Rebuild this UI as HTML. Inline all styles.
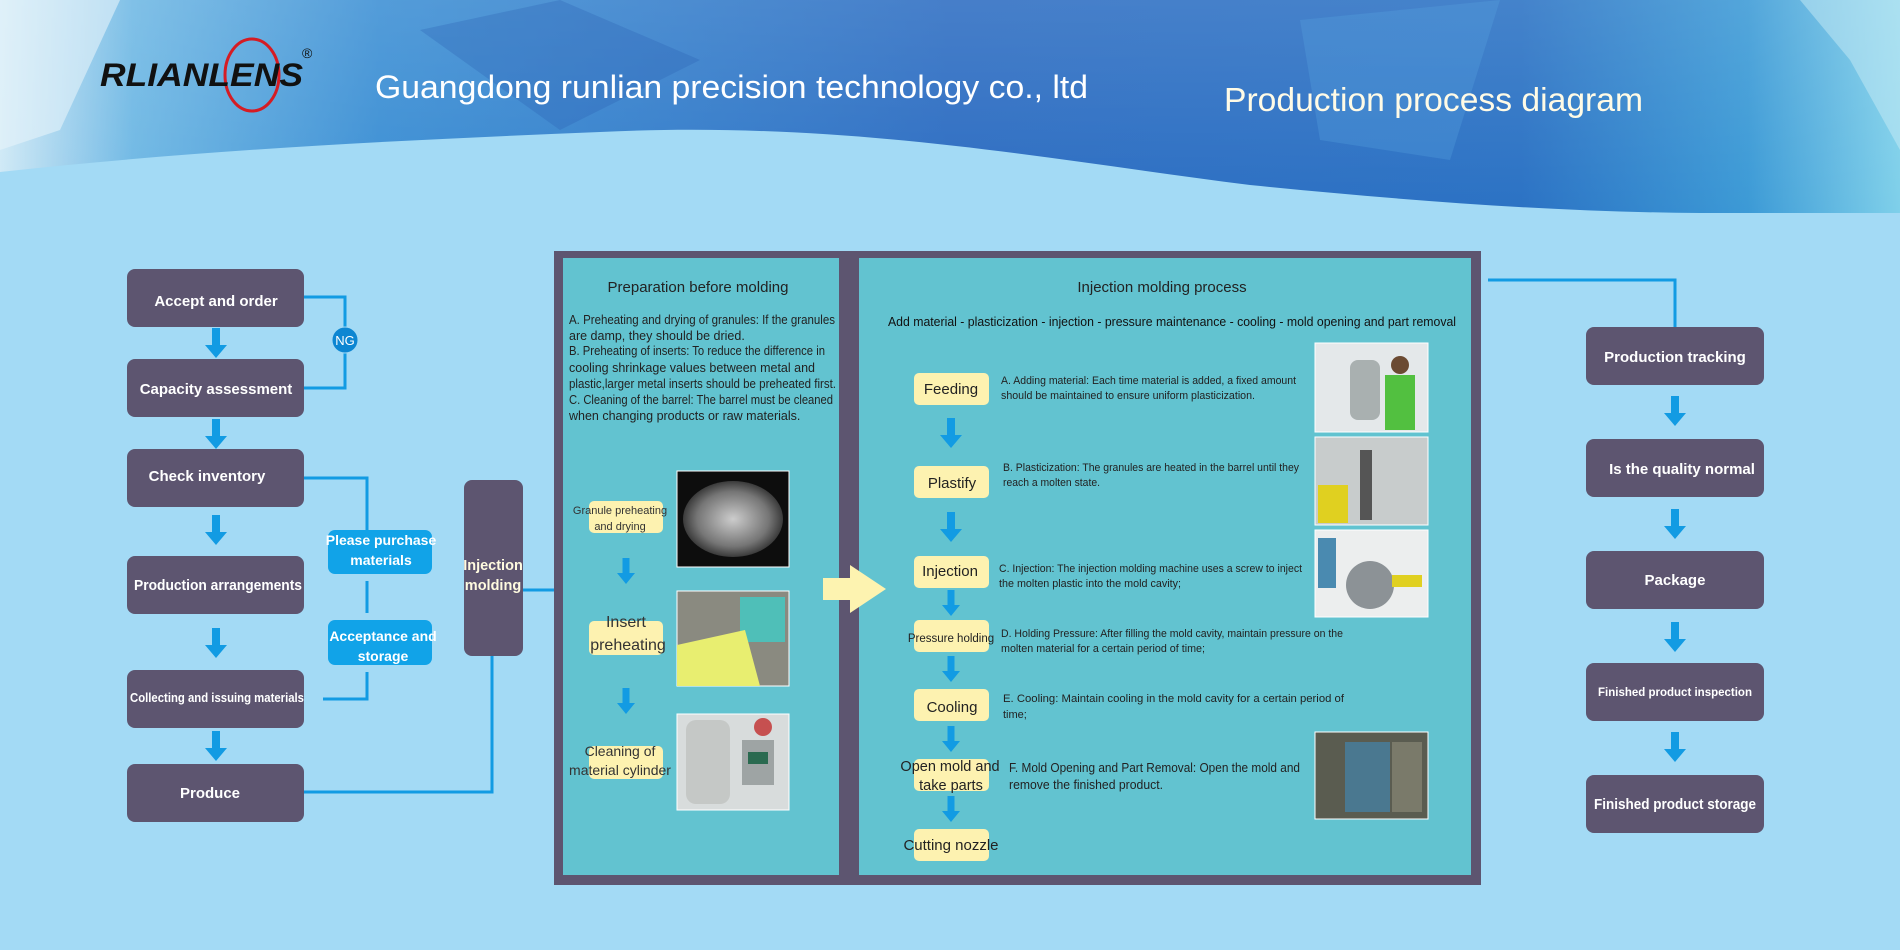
<!DOCTYPE html>
<html><head><meta charset="utf-8"><style>
html,body{margin:0;padding:0;width:1900px;height:950px;overflow:hidden;background:#a3daf5}
svg{display:block}
text{font-family:"Liberation Sans",sans-serif}
</style></head><body>
<svg width="1900" height="950" viewBox="0 0 1900 950" xmlns="http://www.w3.org/2000/svg" xmlns:xlink="http://www.w3.org/1999/xlink">
<defs>
<linearGradient id="hg" x1="0" y1="0" x2="1" y2="0">
<stop offset="0" stop-color="#cfe9f6"/><stop offset="0.07" stop-color="#6fb8e4"/><stop offset="0.2" stop-color="#3c8fd4"/><stop offset="0.5" stop-color="#2d6dc2"/><stop offset="0.8" stop-color="#2b72c4"/><stop offset="0.92" stop-color="#3c9ad6"/><stop offset="1" stop-color="#7fd0ea"/>
</linearGradient>
<linearGradient id="hv" x1="0" y1="0" x2="0" y2="1"><stop offset="0" stop-color="#fff" stop-opacity="0.12"/><stop offset="1" stop-color="#fff" stop-opacity="0"/></linearGradient>
<polygon id="arr" points="-4,0 4,0 4,17 11,17 0,30 -11,17 -4,17" fill="#129be3"/>
<polygon id="arrs" points="-3.5,0 3.5,0 3.5,15 9,15 0,26 -9,15 -3.5,15" fill="#129be3"/>
<radialGradient id="gran" cx="0.5" cy="0.5" r="0.6"><stop offset="0" stop-color="#eee"/><stop offset="0.6" stop-color="#888"/><stop offset="1" stop-color="#111"/></radialGradient>
</defs>
<rect width="1900" height="950" fill="#a3daf5"/>
<path d="M0,0 H1900 V213 L1700,213 C1550,212 1400,200 1250,185 C1050,160 850,120 600,132 C400,140 200,150 0,172 Z" fill="url(#hg)"/>
<path d="M0,0 H1900 V213 L1700,213 C1550,212 1400,200 1250,185 C1050,160 850,120 600,132 C400,140 200,150 0,172 Z" fill="url(#hv)"/>
<polygon points="0,0 120,0 60,130 0,150" fill="#e6f3fa" opacity="0.6"/>
<polygon points="1800,0 1900,0 1900,150 1850,60" fill="#c8ecf6" opacity="0.5"/>
<polygon points="420,30 560,0 700,60 560,130" fill="#2a5fb4" opacity="0.3"/>
<polygon points="1300,20 1500,0 1450,160 1320,140" fill="#5aa7e0" opacity="0.3"/>

<!-- logo -->
<ellipse cx="252" cy="75" rx="27" ry="36" fill="none" stroke="#d51c24" stroke-width="3"/>
<text x="100" y="86" font-size="32" font-weight="bold" font-style="italic" fill="#111" textLength="203" lengthAdjust="spacingAndGlyphs">RLIANLENS</text>
<text x="302" y="58" font-size="14" fill="#111">®</text>
<text x="375" y="98" font-size="32" fill="#fff" textLength="713" lengthAdjust="spacingAndGlyphs">Guangdong runlian precision technology co., ltd</text>
<text x="1224" y="111" font-size="33" fill="#fffbe6" textLength="419" lengthAdjust="spacingAndGlyphs">Production process diagram</text>

<!-- connectors left -->
<g stroke="#129be3" stroke-width="3" fill="none">
<polyline points="304,297 345,297 345,388 304,388"/>
<polyline points="304,478 367,478 367,530"/>
<line x1="367" y1="581" x2="367" y2="613"/>
<polyline points="367,672 367,699 323,699"/>
<line x1="523" y1="590" x2="554" y2="590"/>
<polyline points="304,792 492,792 492,656"/>
<polyline points="1488,280 1675,280 1675,327"/>
</g>
<circle cx="345" cy="340" r="13" fill="#0d86d2" stroke="#a3daf5" stroke-width="1"/>
<text x="345" y="345" font-size="13" fill="#fff" text-anchor="middle">NG</text>

<g fill="#5d5570">
<rect x="127" y="269" width="177" height="58" rx="8"/>
<rect x="127" y="359" width="177" height="58" rx="8"/>
<rect x="127" y="449" width="177" height="58" rx="8"/>
<rect x="127" y="556" width="177" height="58" rx="8"/>
<rect x="127" y="670" width="177" height="58" rx="8"/>
<rect x="127" y="764" width="177" height="58" rx="8"/>
<rect x="464" y="480" width="59" height="176" rx="8"/>
<rect x="1586" y="327" width="178" height="58" rx="8"/>
<rect x="1586" y="439" width="178" height="58" rx="8"/>
<rect x="1586" y="551" width="178" height="58" rx="8"/>
<rect x="1586" y="663" width="178" height="58" rx="8"/>
<rect x="1586" y="775" width="178" height="58" rx="8"/>
</g>
<g fill="#fff" font-weight="bold" text-anchor="middle">
<text x="216" y="306" font-size="15">Accept and order</text>
<text x="216" y="394" font-size="15">Capacity assessment</text>
<text x="207" y="481" font-size="15">Check inventory</text>
<text x="218" y="590" font-size="15" textLength="168" lengthAdjust="spacingAndGlyphs">Production arrangements</text>
<text x="217" y="702" font-size="12.5" textLength="174" lengthAdjust="spacingAndGlyphs">Collecting and issuing materials</text>
<text x="210" y="798" font-size="15">Produce</text>
<text x="1675" y="362" font-size="15">Production tracking</text>
<text x="1682" y="474" font-size="15">Is the quality normal</text>
<text x="1675" y="585" font-size="15">Package</text>
<text x="1675" y="696" font-size="11.5">Finished product inspection</text>
<text x="1675" y="809" font-size="15" textLength="162" lengthAdjust="spacingAndGlyphs">Finished product storage</text>
</g>
<g fill="#fffbe0" font-weight="bold" font-size="14.5" text-anchor="middle">
<text x="493" y="570">Injection</text><text x="493" y="590">molding</text>
</g>
<g fill="#11a3e8">
<rect x="328" y="530" width="104" height="44" rx="7"/>
<rect x="328" y="620" width="104" height="45" rx="7"/>
</g>
<g fill="#fff" font-weight="bold" font-size="14" text-anchor="middle">
<text x="381" y="545">Please purchase</text><text x="381" y="565">materials</text>
<text x="383" y="641">Acceptance and</text><text x="383" y="661">storage</text>
</g>

<!-- arrows -->
<use xlink:href="#arr" x="216" y="328"/>
<use xlink:href="#arr" x="216" y="419"/>
<use xlink:href="#arr" x="216" y="515"/>
<use xlink:href="#arr" x="216" y="628"/>
<use xlink:href="#arr" x="216" y="731"/>
<use xlink:href="#arr" x="1675" y="396"/>
<use xlink:href="#arr" x="1675" y="509"/>
<use xlink:href="#arr" x="1675" y="622"/>
<use xlink:href="#arr" x="1675" y="732"/>

<!-- container -->
<rect x="554" y="251" width="927" height="634" fill="#5d5570"/>
<rect x="563" y="258" width="276" height="617" fill="#62c3d0"/>
<rect x="859" y="258" width="612" height="617" fill="#62c3d0"/>

<!-- left panel -->
<text x="698" y="292" font-size="15" fill="#222" text-anchor="middle">Preparation before molding</text>
<g font-size="12.5" fill="#222">
<text x="569" y="324" textLength="266" lengthAdjust="spacingAndGlyphs">A. Preheating and drying of granules: If the granules</text>
<text x="569" y="340">are damp, they should be dried.</text>
<text x="569" y="355" textLength="256" lengthAdjust="spacingAndGlyphs">B. Preheating of inserts: To reduce the difference in</text>
<text x="569" y="372">cooling shrinkage values between metal and</text>
<text x="569" y="388" textLength="267" lengthAdjust="spacingAndGlyphs">plastic,larger metal inserts should be preheated first.</text>
<text x="569" y="404" textLength="264" lengthAdjust="spacingAndGlyphs">C. Cleaning of the barrel: The barrel must be cleaned</text>
<text x="569" y="420">when changing products or raw materials.</text>
</g>
<g fill="#fdf2b0">
<rect x="589" y="501" width="74" height="32" rx="5"/>
<rect x="589" y="621" width="74" height="34" rx="5"/>
<rect x="589" y="746" width="74" height="33" rx="5"/>
</g>
<g fill="#333" text-anchor="middle">
<text x="620" y="514" font-size="11">Granule preheating</text>
<text x="620" y="530" font-size="11">and drying</text>
<text x="626" y="627" font-size="16">Insert</text>
<text x="628" y="650" font-size="16">preheating</text>
<text x="620" y="756" font-size="14">Cleaning of</text>
<text x="620" y="775" font-size="14">material cylinder</text>
</g>
<use xlink:href="#arrs" x="626" y="558"/>
<use xlink:href="#arrs" x="626" y="688"/>
<rect x="677" y="471" width="112" height="96" fill="#0d0d0d" stroke="#fff"/>
<ellipse cx="733" cy="519" rx="50" ry="38" fill="url(#gran)" opacity="0.85"/>
<rect x="677" y="591" width="112" height="95" fill="#8a8a80" stroke="#fff"/>
<rect x="740" y="597" width="45" height="45" fill="#4fbfb8"/>
<path d="M677,645 L745,630 L760,686 L677,686 Z" fill="#e8ee70"/>
<rect x="677" y="714" width="112" height="96" fill="#d8dcdc" stroke="#fff"/>
<rect x="686" y="720" width="44" height="84" rx="10" fill="#c5c8c6"/>
<rect x="742" y="740" width="32" height="45" fill="#9ea4a4"/>
<rect x="748" y="752" width="20" height="12" fill="#2a6a50"/>
<circle cx="763" cy="727" r="9" fill="#c65050"/>

<!-- yellow arrow -->
<polygon points="823,578 850,578 850,565 886,589 850,613 850,600 823,600" fill="#fdf3b0"/>

<!-- right panel -->
<text x="1162" y="292" font-size="15" fill="#222" text-anchor="middle">Injection molding process</text>
<text x="888" y="326" font-size="12.5" fill="#111" textLength="568" lengthAdjust="spacingAndGlyphs">Add material - plasticization - injection - pressure maintenance - cooling - mold opening and part removal</text>
<g fill="#fdf2b0">
<rect x="914" y="373" width="75" height="32" rx="5"/>
<rect x="914" y="466" width="75" height="32" rx="5"/>
<rect x="914" y="556" width="75" height="32" rx="5"/>
<rect x="914" y="620" width="75" height="32" rx="5"/>
<rect x="914" y="689" width="75" height="32" rx="5"/>
<rect x="914" y="759" width="75" height="32" rx="5"/>
<rect x="914" y="829" width="75" height="32" rx="5"/>
</g>
<g fill="#222" text-anchor="middle" font-size="15">
<text x="951" y="394">Feeding</text>
<text x="952" y="488">Plastify</text>
<text x="950" y="576">Injection</text>
<text x="951" y="642" font-size="11.5">Pressure holding</text>
<text x="952" y="712">Cooling</text>
<text x="950" y="771" font-size="14.5">Open mold and</text>
<text x="951" y="790" font-size="14.5">take parts</text>
<text x="951" y="850">Cutting nozzle</text>
</g>
<use xlink:href="#arr" x="951" y="418"/>
<use xlink:href="#arr" x="951" y="512"/>
<use xlink:href="#arrs" x="951" y="590"/>
<use xlink:href="#arrs" x="951" y="656"/>
<use xlink:href="#arrs" x="951" y="726"/>
<use xlink:href="#arrs" x="951" y="796"/>
<g font-size="11" fill="#222">
<text x="1001" y="384" textLength="295" lengthAdjust="spacingAndGlyphs">A. Adding material: Each time material is added, a fixed amount</text>
<text x="1001" y="399" textLength="254" lengthAdjust="spacingAndGlyphs">should be maintained to ensure uniform plasticization.</text>
<text x="1003" y="471" textLength="296" lengthAdjust="spacingAndGlyphs">B. Plasticization: The granules are heated in the barrel until they</text>
<text x="1003" y="486" textLength="97" lengthAdjust="spacingAndGlyphs">reach a molten state.</text>
<text x="999" y="572" textLength="303" lengthAdjust="spacingAndGlyphs">C. Injection: The injection molding machine uses a screw to inject</text>
<text x="999" y="587" textLength="182" lengthAdjust="spacingAndGlyphs">the molten plastic into the mold cavity;</text>
<text x="1001" y="637" textLength="342" lengthAdjust="spacingAndGlyphs">D. Holding Pressure: After filling the mold cavity, maintain pressure on the</text>
<text x="1001" y="652" textLength="204" lengthAdjust="spacingAndGlyphs">molten material for a certain period of time;</text>
<text x="1003" y="702" textLength="341" lengthAdjust="spacingAndGlyphs">E. Cooling: Maintain cooling in the mold cavity for a certain period of</text>
<text x="1003" y="718">time;</text>
<text x="1009" y="772" font-size="12.5" textLength="291" lengthAdjust="spacingAndGlyphs">F. Mold Opening and Part Removal: Open the mold and</text>
<text x="1009" y="789" font-size="12.5" textLength="154" lengthAdjust="spacingAndGlyphs">remove the finished product.</text>
</g>
<!-- photos right -->
<rect x="1315" y="343" width="113" height="89" fill="#e4e8ea" stroke="#fff"/>
<rect x="1350" y="360" width="30" height="60" rx="8" fill="#a9b0b0"/>
<rect x="1385" y="375" width="30" height="55" fill="#52c040"/>
<circle cx="1400" cy="365" r="9" fill="#6b4a32"/>
<rect x="1315" y="437" width="113" height="88" fill="#c8cccc" stroke="#fff"/>
<rect x="1318" y="485" width="30" height="38" fill="#e0d020"/>
<rect x="1360" y="450" width="12" height="70" fill="#555"/>
<rect x="1315" y="530" width="113" height="87" fill="#eceeee" stroke="#fff"/>
<circle cx="1370" cy="585" r="24" fill="#8c9296"/>
<rect x="1318" y="538" width="18" height="50" fill="#4a8ab0"/>
<rect x="1392" y="575" width="30" height="12" fill="#e0d020"/>
<rect x="1315" y="732" width="113" height="87" fill="#5a5c50" stroke="#fff"/>
<rect x="1345" y="742" width="45" height="70" fill="#4a7890"/>
<rect x="1392" y="742" width="30" height="70" fill="#7a7a6a"/>
</svg>
</body></html>
